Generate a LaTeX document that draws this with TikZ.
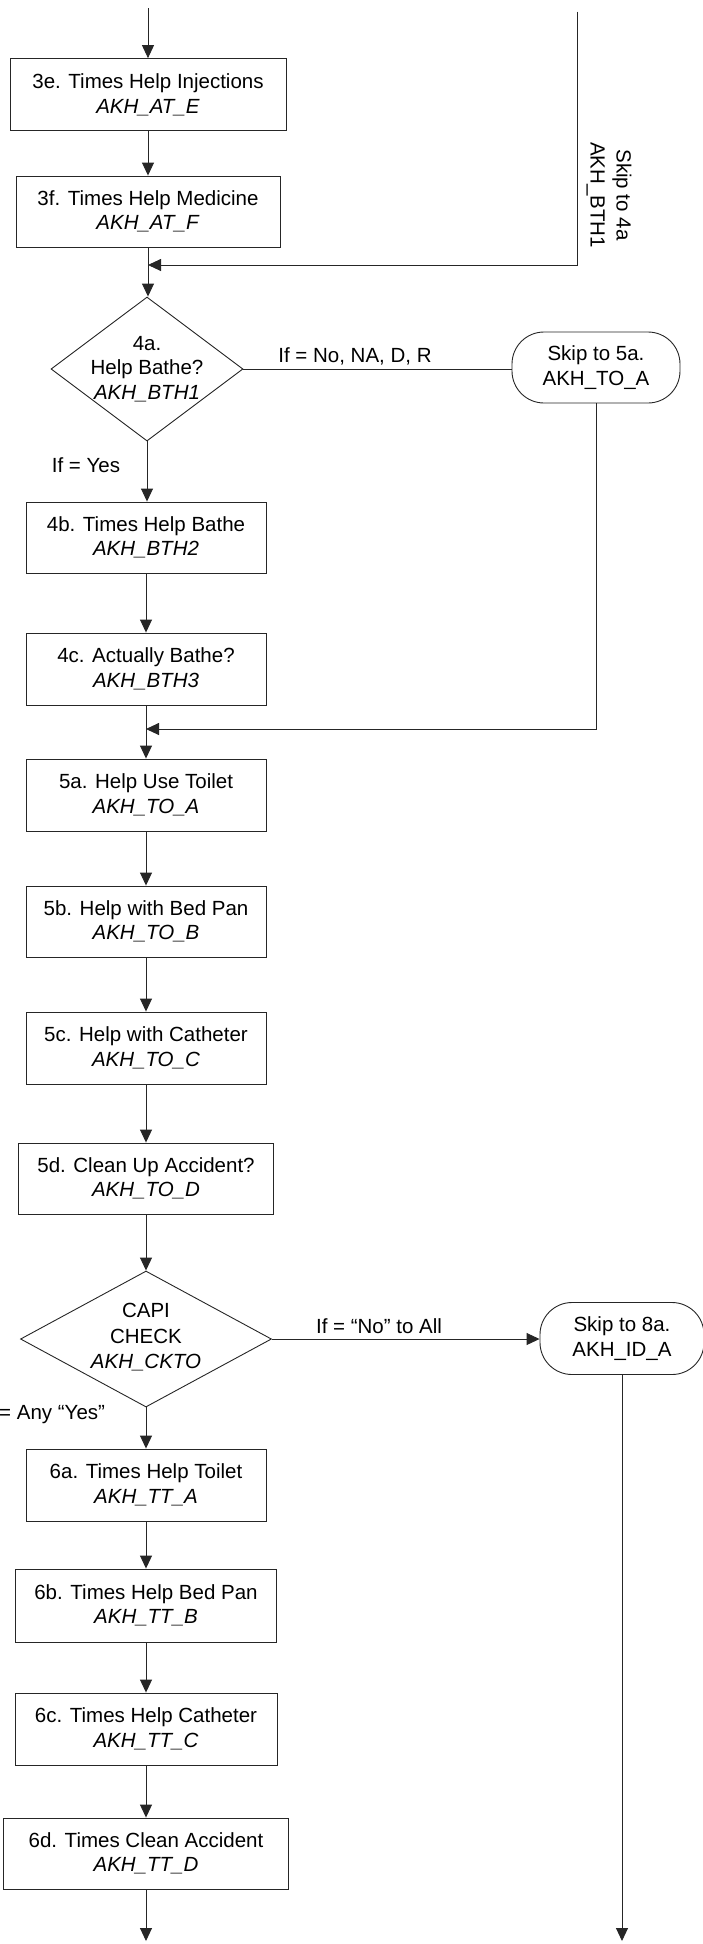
\documentclass[tikz,border=0pt]{standalone}
\usepackage{fontspec}
\setmainfont{Liberation Sans}
\usetikzlibrary{shapes.geometric,arrows.meta}
\begin{document}
\begin{tikzpicture}[x=1pt,y=-1pt,
  every node/.style={font=\fontsize{20.5}{24.5}\selectfont},
  box/.style={draw=black!85, rectangle, align=center, inner sep=0pt, line width=0.9pt},
  dec/.style={draw=black!85, diamond, inner sep=0pt, line width=0.9pt},
  term/.style={draw=black!85, rectangle, rounded corners=32pt, align=center, inner sep=0pt, line width=0.9pt},
  lbl/.style={inner sep=0pt, align=center},
  arr/.style={draw=black!85, line width=0.9pt, -{Triangle[length=13pt,width=12pt]}},
  ln/.style={draw=black!85, line width=0.9pt}
]
\useasboundingbox (0,0) rectangle (703,1944);

% boxes
\node[box, minimum width=276pt, minimum height=72pt] (n3e) at (148,94.6) {3e. Times Help Injections\\\textit{AKH\_AT\_E}};
\node[box, minimum width=264pt, minimum height=71pt] (n3f) at (148,211.5) {3f. Times Help Medicine\\\textit{AKH\_AT\_F}};

\node[dec, minimum width=192pt, minimum height=144pt] (d4a) at (147,369) {};
\node[lbl] (d4at) at (147,369) {4a.\\Help Bathe?\\\textit{AKH\_BTH1}};

\node[term, minimum width=168pt, minimum height=71pt] (o5a) at (596,367.5) {Skip to 5a.\\AKH\_TO\_A};

\node[box, minimum width=240pt, minimum height=71pt] (n4b) at (146,537.5) {4b. Times Help Bathe\\\textit{AKH\_BTH2}};
\node[box, minimum width=240pt, minimum height=72pt] (n4c) at (146,669) {4c. Actually Bathe?\\\textit{AKH\_BTH3}};
\node[box, minimum width=240pt, minimum height=72pt] (n5a) at (146,795) {5a. Help Use Toilet\\\textit{AKH\_TO\_A}};
\node[box, minimum width=240pt, minimum height=71pt] (n5b) at (146,921.5) {5b. Help with Bed Pan\\\textit{AKH\_TO\_B}};
\node[box, minimum width=240pt, minimum height=72pt] (n5c) at (146,1048) {5c. Help with Catheter\\\textit{AKH\_TO\_C}};
\node[box, minimum width=255pt, minimum height=71pt] (n5d) at (146,1178.5) {5d. Clean Up Accident?\\\textit{AKH\_TO\_D}};

\node[dec, minimum width=251pt, minimum height=136pt] (dck) at (146,1339) {};
\node[lbl, font=\fontsize{20.5}{25.5}\selectfont] (dckt) at (146,1337.5) {CAPI\\CHECK\\\textit{AKH\_CKTO}};

\node[term, minimum width=164pt, minimum height=72pt] (o8a) at (622,1338.5) {Skip to 8a.\\AKH\_ID\_A};

\node[box, minimum width=240pt, minimum height=72pt] (n6a) at (146,1485) {6a. Times Help Toilet\\\textit{AKH\_TT\_A}};
\node[box, minimum width=261pt, minimum height=73pt] (n6b) at (146,1605.5) {6b. Times Help Bed Pan\\\textit{AKH\_TT\_B}};
\node[box, minimum width=262pt, minimum height=72pt] (n6c) at (146,1729) {6c. Times Help Catheter\\\textit{AKH\_TT\_C}};
\node[box, minimum width=285pt, minimum height=71pt] (n6d) at (146,1853.5) {6d. Times Clean Accident\\\textit{AKH\_TT\_D}};

% labels
\node[lbl, rotate=-90, font=\fontsize{20.5}{26}\selectfont] (skip4a) at (609,195) {Skip to 4a\\AKH\_BTH1};
\node[lbl] (lno) at (355,356) {If = No, NA, D, R};
\node[lbl] (lyes) at (86,465) {If = Yes};
\node[lbl] (lnoall) at (379,1326) {If = “No” to All};
\node[lbl, anchor=west] (lany) at (-1,1415) {= Any “Yes”};

% coordinates
\coordinate (tl) at (148,8);
\coordinate (rtop) at (577.7,11.7);
\coordinate (rturn) at (577.7,265);
\coordinate (r2) at (596,729);
\coordinate (bl) at (146,1941);
\coordinate (br) at (622,1941);

% connectors
\draw[arr] (tl -| n3e.north) -- (n3e.north);
\draw[arr] (n3e.south) -- (n3e.south |- n3f.north);
\draw[arr] (n3f.south) -- (n3f.south |- d4a.north);
\draw[arr] (rtop) -- (rturn) -- (rturn -| n3f.south);
\draw[ln] (d4a.east) -- (d4a.east -| o5a.west);
\draw[arr] (d4a.south) -- (d4a.south |- n4b.north);
\draw[arr] (n4b.south) -- (n4c.north);
\draw[arr] (n4c.south) -- (n5a.north);
\draw[arr] (o5a.south) -- (r2) -- (r2 -| n5a.north);
\draw[arr] (n5a.south) -- (n5b.north);
\draw[arr] (n5b.south) -- (n5c.north);
\draw[arr] (n5c.south) -- (n5d.north);
\draw[arr] (n5d.south) -- (dck.north);
\draw[arr] (dck.east) -- (dck.east -| o8a.west);
\draw[arr] (dck.south) -- (n6a.north);
\draw[arr] (n6a.south) -- (n6b.north);
\draw[arr] (n6b.south) -- (n6c.north);
\draw[arr] (n6c.south) -- (n6d.north);
\draw[arr] (n6d.south) -- (n6d.south |- bl);
\draw[arr] (o8a.south) -- (o8a.south |- br);
\end{tikzpicture}
\end{document}
